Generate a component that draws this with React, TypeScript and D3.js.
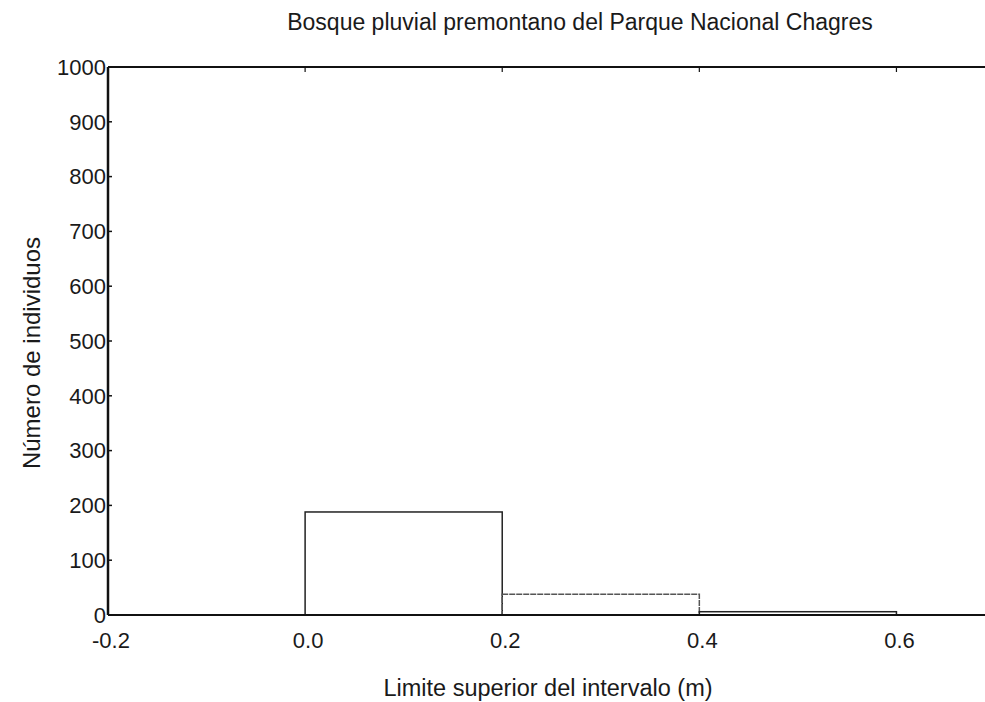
import React from "react";
import * as d3 from "d3";

const binStarts = [0.0, 0.2, 0.4];
const binWidth = 0.2;
const counts = [188, 38, 6];
const yTicks = [0, 100, 200, 300, 400, 500, 600, 700, 800, 900, 1000];
const xTicks = [-0.2, 0.0, 0.2, 0.4, 0.6];
const title = "Bosque pluvial premontano del Parque Nacional Chagres";
const xLabel = "Limite superior del intervalo (m)";
const yLabel = "Número de individuos";

export default function App() {
  const W = 985, H = 702;
  const x = d3.scaleLinear().domain([-0.2, 0.7]).range([108, 995]);
  const y = d3.scaleLinear().domain([0, 1000]).range([615, 67]);
  const font = "'Liberation Sans', Arial, sans-serif";
  const bars = binStarts.map((s, i) => ({ s, e: s + binWidth, v: counts[i] }));
  return (
    <svg width={W} height={H} style={{ position: "absolute", left: 0, top: 0, background: "#fff" }} fontFamily={font}>
      <rect x={0} y={0} width={W} height={H} fill="#fff" />
      <text x={580} y={30} textAnchor="middle" fontSize={23} fill="#1a1a1a">{title}</text>
      {bars.map((b, i) => (
        <rect key={i} x={x(b.s)} y={y(b.v)} width={x(b.e) - x(b.s)} height={y(0) - y(b.v)}
          fill="none" stroke={i === 1 ? "#555" : "#222"} strokeWidth={1.5}
          strokeDasharray={i === 1 ? "6 1" : undefined} />
      ))}
      {/* axes */}
      <line x1={x(-0.2)} x2={W} y1={y(0)} y2={y(0)} stroke="#111" strokeWidth={2} />
      <line x1={x(-0.2)} x2={W} y1={y(1000)} y2={y(1000)} stroke="#111" strokeWidth={2} />
      <line x1={x(-0.2)} x2={x(-0.2)} y1={y(0)} y2={y(1000)} stroke="#111" strokeWidth={2.5} />
      {yTicks.map(t => (
        <g key={t}>
          <line x1={x(-0.2)} x2={x(-0.2) + 4} y1={y(t)} y2={y(t)} stroke="#111" strokeWidth={1.5} />
          <text x={x(-0.2) - 2} y={y(t)} dy="0.35em" textAnchor="end" fontSize={22} fill="#1a1a1a">{t}</text>
        </g>
      ))}
      {xTicks.map(t => (
        <g key={t}>
          <line x1={x(t)} x2={x(t)} y1={y(1000)} y2={y(1000) + 5} stroke="#111" strokeWidth={1.2} />
          <text x={x(t) + 3} y={648} textAnchor="middle" fontSize={22} fill="#1a1a1a">{t.toFixed(1)}</text>
        </g>
      ))}
      <text x={548} y={696} textAnchor="middle" fontSize={23.5} fill="#1a1a1a">{xLabel}</text>
      <text transform={`translate(40,353) rotate(-90)`} textAnchor="middle" fontSize={24} fill="#1a1a1a">{yLabel}</text>
    </svg>
  );
}
